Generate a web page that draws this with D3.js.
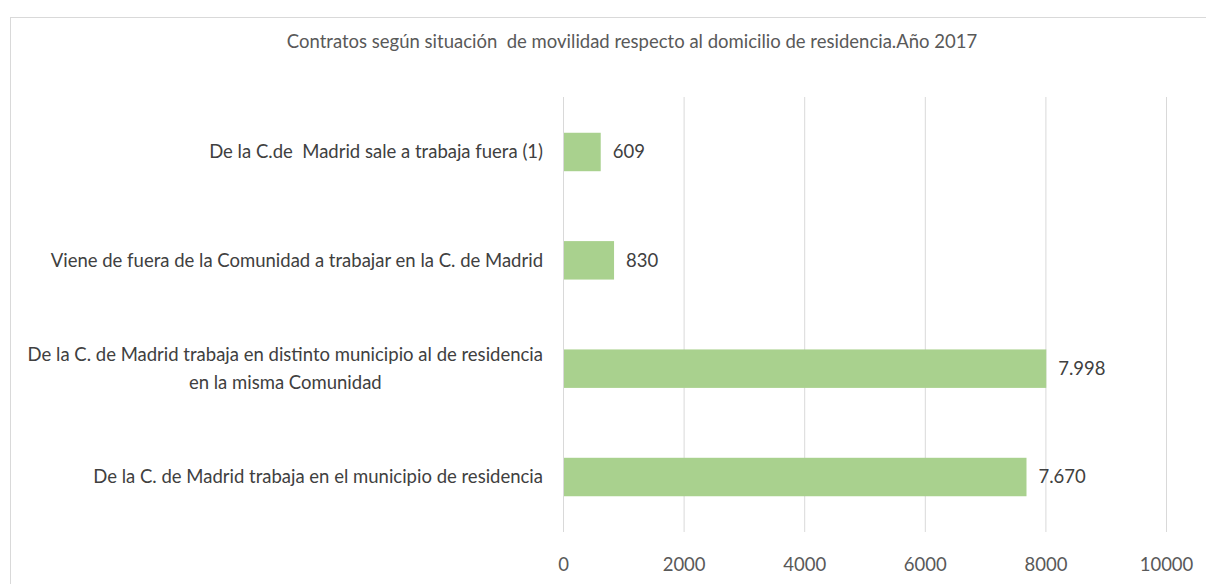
<!DOCTYPE html>
<html>
<head>
<meta charset="utf-8">
<script src="https://cdn.jsdelivr.net/npm/d3@7"></script>
<style>
  body { margin: 0; background: #fff; }
  text { font-family: Lato, "Open Sans", sans-serif; white-space: pre; }
</style>
</head>
<body>
<div id="chart"></div>
<script>
// data (top to bottom)
var categories = [
  ["De la C.de  Madrid sale a trabaja fuera (1)"],
  ["Viene de fuera de la Comunidad a trabajar en la C. de Madrid"],
  ["De la C. de Madrid trabaja en distinto municipio al de residencia", "en la misma Comunidad"],
  ["De la C. de Madrid trabaja en el municipio de residencia"]
];
var values = [609, 830, 7998, 7670];
var valueLabels = ["609", "830", "7.998", "7.670"];
var xTicks = [0, 2000, 4000, 6000, 8000, 10000];
var title = "Contratos según situación  de movilidad respecto al domicilio de residencia.Año 2017";

var svgWidth = 1206, svgHeight = 584;
var margin = { top: 97, right: 40, bottom: 52, left: 563 };
var width = svgWidth - margin.left - margin.right;
var height = svgHeight - margin.top - margin.bottom;
var fs = "18.5px";

var svg = d3.select("#chart")
  .append("svg")
  .attr("width", svgWidth)
  .attr("height", svgHeight);

// chart border
svg.append("rect")
  .attr("x", 10.5)
  .attr("y", 17.5)
  .attr("width", 1220)
  .attr("height", 600)
  .attr("fill", "none")
  .attr("stroke", "#d9d9d9");

svg.append("text")
  .attr("x", 632)
  .attr("y", 48)
  .attr("text-anchor", "middle")
  .attr("font-size", fs)
  .attr("fill", "#595959")
  .text(title);

var chartGroup = svg.append("g")
  .attr("transform", `translate(${margin.left}, ${margin.top})`);

var xScale = d3.scaleLinear()
  .domain([0, 10000])
  .range([0, width]);

var yScale = d3.scaleBand()
  .domain(d3.range(values.length))
  .range([0, height])
  .paddingInner(0.645)
  .paddingOuter(0.33);

// gridlines
chartGroup.selectAll(".grid")
  .data(xTicks)
  .enter()
  .append("line")
  .attr("x1", d => xScale(d) + 0.5)
  .attr("x2", d => xScale(d) + 0.5)
  .attr("y1", 0)
  .attr("y2", height)
  .attr("stroke", "#d9d9d9")
  .attr("stroke-width", 1);

// x axis labels
var xAxis = d3.axisBottom(xScale).tickValues(xTicks).tickFormat(d3.format("d")).tickSize(0).tickPadding(26);
var xg = chartGroup.append("g")
  .attr("transform", `translate(0, ${height})`)
  .call(xAxis);
xg.select(".domain").remove();
xg.selectAll("text")
  .attr("font-size", fs)
  .attr("font-family", "Lato, 'Open Sans', sans-serif")
  .attr("fill", "#595959");

// bars
chartGroup.selectAll(".bar")
  .data(values)
  .enter()
  .append("rect")
  .attr("x", xScale(0) + 1)
  .attr("y", (d, i) => yScale(i))
  .attr("width", d => xScale(d) - xScale(0))
  .attr("height", yScale.bandwidth())
  .attr("fill", "#a9d18e");

// value labels
chartGroup.selectAll(".val")
  .data(values)
  .enter()
  .append("text")
  .attr("x", d => xScale(d) + 13)
  .attr("y", (d, i) => yScale(i) + yScale.bandwidth() / 2)
  .attr("dy", "0.35em")
  .attr("font-size", fs)
  .attr("fill", "#404040")
  .text((d, i) => valueLabels[i]);

// category labels
var catGroup = chartGroup.selectAll(".cat")
  .data(categories)
  .enter()
  .append("text")
  .attr("text-anchor", "middle")
  .attr("font-size", fs)
  .attr("fill", "#404040")
  .attr("y", (d, i) => yScale(i) + yScale.bandwidth() / 2);

catGroup.each(function(lines) {
  var t = d3.select(this);
  var lineH = 28;
  var start = -(lines.length - 1) * lineH / 2;
  lines.forEach(function(line, j) {
    t.append("tspan")
      .attr("x", -20)
      .attr("dy", j === 0 ? (start / 18.5 + 0.35) + "em" : lineH + "px")
      .text(line);
  });
});
// right align single-line labels, center two-line labels like the reference
catGroup.filter(d => d.length === 1).attr("text-anchor", "end");
catGroup.filter(d => d.length > 1).each(function() {
  var bb = this.getBBox();
  d3.select(this).selectAll("tspan").attr("x", -20 - bb.width / 2);
});
</script>
</body>
</html>
